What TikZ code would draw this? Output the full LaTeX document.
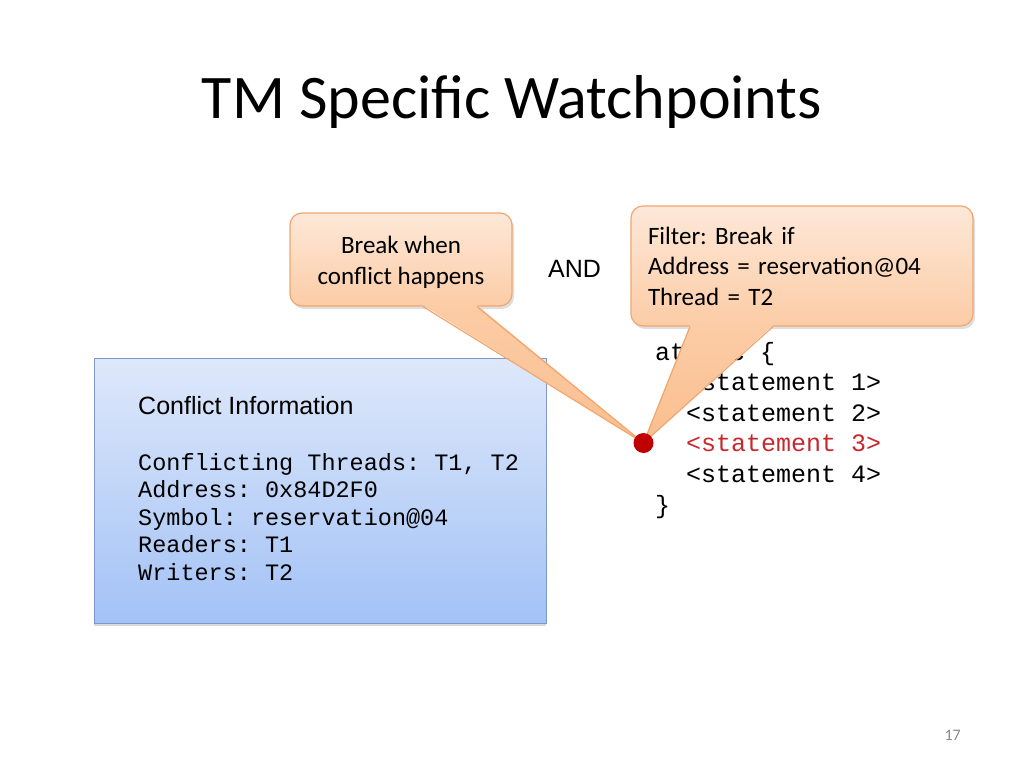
\documentclass[tikz,border=0pt]{standalone}
\usepackage{fontspec}
\setmainfont{Carlito}
\setmonofont{Liberation Mono}
\newfontfamily\arialfont{Liberation Sans}
\usetikzlibrary{calc,shadows}
\frenchspacing
\definecolor{bubbletop}{RGB}{253,232,216}
\definecolor{bubblebot}{RGB}{252,204,166}
\definecolor{bubbletip}{RGB}{250,190,142}
\definecolor{bubbleline}{RGB}{240,166,110}
\definecolor{infotop}{RGB}{222,232,250}
\definecolor{infobot}{RGB}{163,194,246}
\definecolor{infoline}{RGB}{126,153,201}
\definecolor{stmtred}{RGB}{200,40,44}
\definecolor{dotred}{RGB}{192,0,0}
\definecolor{pagegray}{RGB}{137,137,137}
\tikzset{
  x=1pt, y=-1pt,
}
\tikzstyle{bubble}=[rounded corners=12pt,draw=bubbleline,line width=1.2pt,
  top color=bubbletop,bottom color=bubblebot,inner sep=0pt,
  drop shadow={opacity=.25,shadow xshift=2pt,shadow yshift=-3pt},
  font=\fontsize{25}{30.5}\selectfont]
\tikzstyle{tailfill}=[top color=bubblebot,bottom color=bubbletip]
\tikzstyle{tailline}=[draw=bubbleline,line width=1.2pt,line join=round]
\tikzstyle{infobox}=[draw=infoline,line width=1pt,top color=infotop,
  bottom color=infobot,
  drop shadow={opacity=.3,shadow xshift=0pt,shadow yshift=-3pt}]
\tikzstyle{code}=[anchor=base west,inner sep=0pt,font=\ttfamily\fontsize{25}{30}\selectfont]
\tikzstyle{infocode}=[anchor=base west,inner sep=0pt,font=\ttfamily\fontsize{23.5}{27}\selectfont]

\begin{document}
\begin{tikzpicture}
  \useasboundingbox (0,0) rectangle (1024,768);
  \node[anchor=base,inner sep=0pt,font=\fontsize{62}{74}\selectfont] (title)
    at (512,118) {TM Specific Watchpoints};

  % conflict information panel
  \node[infobox,minimum width=452pt,minimum height=265pt] (info) at (320,490.5) {};
  \node[anchor=base west,inner sep=0pt,font=\arialfont\fontsize{25}{30}\selectfont]
    (infohead) at (138,414) {Conflict Information};
  \foreach \t [count=\i from 0] in {{Conflicting Threads: T1, T2},
      {Address: 0x84D2F0},{Symbol: reservation@04},{Readers: T1},{Writers: T2}}
    \node[infocode] (info\i) at (138,470.5+27.4*\i) {\t};

  % atomic block
  \node[code] (atomic) at (655,360) {atomic \{};
  \foreach \n/\c in {1/black,2/black,3/stmtred,4/black}
    \node[code,text=\c] (stmt\n) at (686,360+30.6*\n) {<statement \n>};
  \node[code] (close) at (655,513) {\}};

  \node[anchor=base west,inner sep=0pt,font=\arialfont\fontsize{25}{30}\selectfont]
    (and) at (548,277) {AND};

  \coordinate (bp) at (643.5,443);

  % callouts
  \node[bubble,minimum width=222pt,minimum height=93pt,align=center] (brk)
    at (401,259.5) {\rule{0pt}{23pt}Break when\\conflict happens};
  \node[bubble,minimum width=342pt,minimum height=120pt,inner xsep=17pt,
    text width=308pt,align=left] (flt)
    at (802,266) {Filter: Break if\\Address = reservation@04\\Thread = T2};

  \shade[tailfill] ($(brk.south)+(22,-1.5)$) -- (bp) -- ($(brk.south)+(76,-1.5)$) -- cycle;
  \draw[tailline] ($(brk.south)+(22,0)$) -- (bp) -- ($(brk.south)+(76,0)$);
  \shade[tailfill] ($(flt.south)+(-112,-1.5)$) -- (bp) -- ($(flt.south)+(-29,-1.5)$) -- cycle;
  \draw[tailline] ($(flt.south)+(-112,0)$) -- (bp) -- ($(flt.south)+(-29,0)$);

  \node[circle,fill=dotred,inner sep=0pt,minimum size=20pt] (dot) at (bp) {};

  \node[anchor=base east,inner sep=0pt,text=pagegray,font=\fontsize{16}{19}\selectfont]
    (pgnum) at (961,740) {17};
\end{tikzpicture}
\end{document}
